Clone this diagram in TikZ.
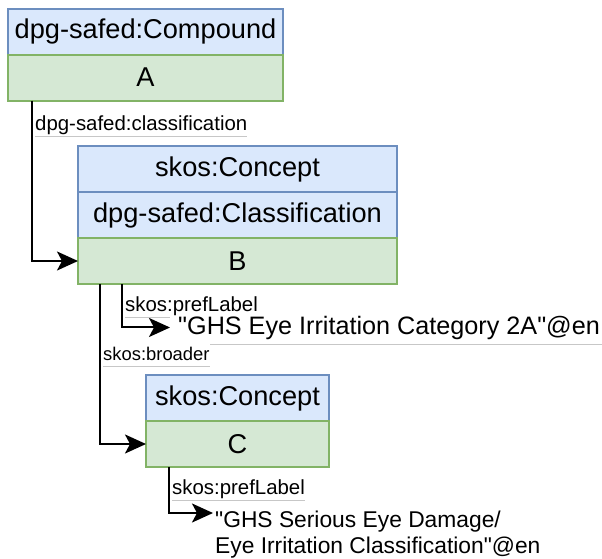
\documentclass[tikz,border=0pt]{standalone}
\usepackage{fontspec}
\setmainfont{Liberation Sans}
\usetikzlibrary{positioning, arrows.meta}
\definecolor{clsfill}{HTML}{DAE8FC}
\definecolor{clsline}{HTML}{6C8EBF}
\definecolor{instfill}{HTML}{D5E8D4}
\definecolor{instline}{HTML}{82B366}

\begin{document}
\begin{tikzpicture}[x=1pt, y=-1pt,
  clsbox/.style={draw=clsline, fill=clsfill, line width=2pt, outer sep=0pt, inner sep=0pt, minimum height=46pt, font=\fontsize{27.2}{32}\selectfont},
  instbox/.style={clsbox, draw=instline, fill=instfill},
  link/.style={line width=2pt, -{Stealth[length=21pt 0, width=19pt 0, inset=5pt]}},
  prop/.style={anchor=base west, inner sep=0pt, font=\fontsize{20.4}{24}\selectfont},
  literal/.style={anchor=base west, inner xsep=8pt, inner ysep=0pt, font=\fontsize{25.2}{30}\selectfont},
  rule/.style={draw=black!22, line width=1pt}]
\useasboundingbox (0,0) rectangle (602,558);

% Nodes
\node[clsbox, minimum width=275pt] (Acls) at (145.5,31.5) {dpg-safed:Compound};
\node[instbox, minimum width=275pt, below=0pt of Acls] (A) {A};

\node[clsbox, minimum width=319pt] (Bcls1) at (237.5,169) {skos:Concept};
\node[clsbox, minimum width=319pt, below=0pt of Bcls1] (Bcls2) {dpg-safed:Classification};
\node[instbox, minimum width=319pt, below=0pt of Bcls2] (B) {B};

\node[clsbox, minimum width=183pt] (Ccls) at (237.5,398) {skos:Concept};
\node[instbox, minimum width=183pt, below=0pt of Ccls] (C) {C};

% Literals
\node[literal] (litB) at (170,334) {\textquotedbl GHS Eye Irritation Category 2A\textquotedbl @en};
\node[literal, anchor=north west, inner xsep=2pt, align=left, font=\fontsize{22.8}{26}\selectfont] (litC) at (213,511) {\textquotedbl GHS Serious Eye Damage/\\Eye Irritation Classification\textquotedbl @en};

% Property labels
\node[prop] (pClass) at (35,130) {dpg-safed:classification};
\node[prop] (pLabelB) at (125,311) {skos:prefLabel};
\node[prop, font=\fontsize{18.4}{22}\selectfont] (pBroader) at (103,360) {skos:broader};
\node[prop] (pLabelC) at (172,494) {skos:prefLabel};

% Underlines
\draw[rule] ([yshift=-6pt]pClass.base west) -- ([yshift=-6pt]pClass.base east);
\coordinate (uB) at ([yshift=-6pt]pLabelB.base west);
\draw[rule] (uB) -- (uB -| litB.west);
\draw[rule] ([xshift=40pt, yshift=-10pt]litB.base west) -- ([yshift=-10pt]litB.base east);
\draw[rule] ([yshift=-6pt]pBroader.base west) -- ([yshift=-6pt]pBroader.base east);
\draw[rule] ([yshift=-6pt]pLabelC.base west) -- ([yshift=-6pt]pLabelC.base east);

% Links
\draw[link] ([xshift=24pt]A.south west) |- (B.west); % A --> B
\draw[link] ([xshift=22pt]B.south west) |- (C.west); % B --> C
\draw[link] ([xshift=44pt]B.south west) |- (litB.west); % B --> literal
\draw[link] ([xshift=23pt]C.south west) |- ([yshift=-2pt]litC.north west); % C --> literal

\end{tikzpicture}
\end{document}
